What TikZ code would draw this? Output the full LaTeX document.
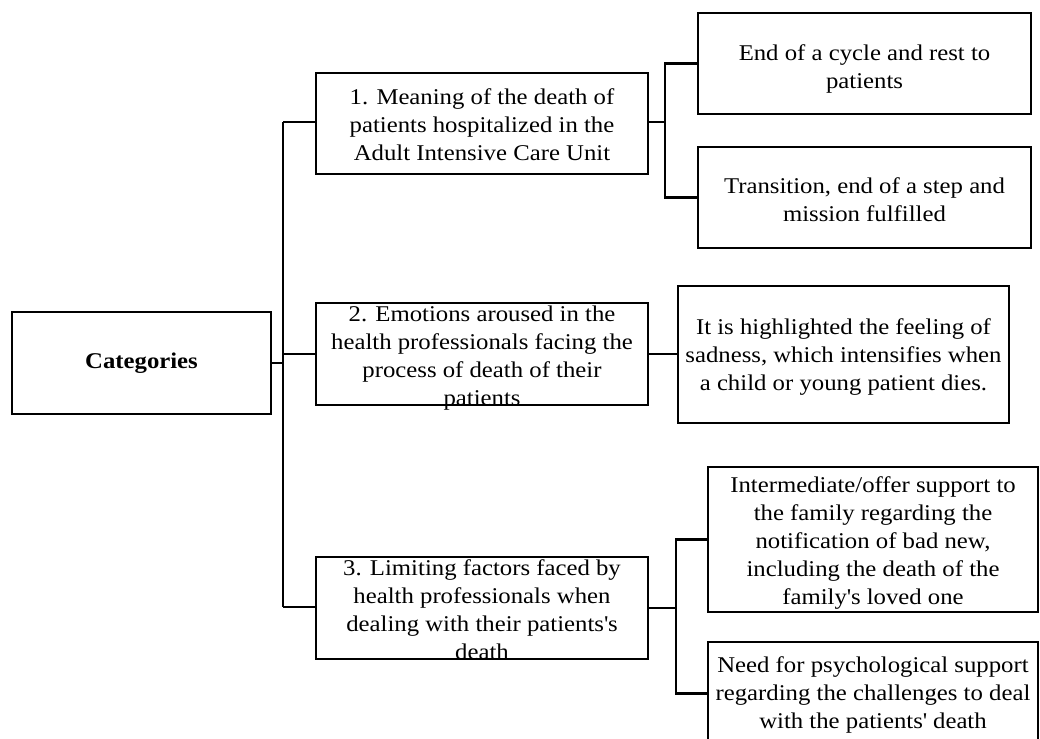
\documentclass[tikz,border=0pt]{standalone}
\usepackage{fontspec}
\setmainfont{Liberation Serif}[FakeStretch=1.1]
\begin{document}
\begin{tikzpicture}[x=1pt,y=-1pt,
  box/.style={draw, line width=2.5pt, inner sep=0pt},
  txt/.style={align=center, inner sep=0pt, font=\fontsize{22.5}{28}\selectfont},
  conn/.style={line width=2.5pt}]
\useasboundingbox (0,0) rectangle (1040,738);
\clip (0,0) rectangle (1040,738);
% boxes
\node[box, minimum width=259pt, minimum height=102pt, font=\fontsize{22.5}{28}\selectfont\bfseries] (cat) at (141.5,363) {Categories};
\node[box, minimum width=332pt, minimum height=101pt] (b1) at (482,123.5) {};
\node[box, minimum width=332pt, minimum height=102pt] (b2) at (482,354) {};
\node[box, minimum width=332pt, minimum height=102pt] (b3) at (482,608) {};
\node[box, minimum width=333pt, minimum height=101pt] (b1a) at (864.5,63.5) {};
\node[box, minimum width=333pt, minimum height=101pt] (b1b) at (864.5,197.5) {};
\node[box, minimum width=331pt, minimum height=137pt] (b2a) at (843.5,354.5) {};
\node[box, minimum width=330pt, minimum height=145pt] (b3a) at (873,539.5) {};
\node[box, minimum width=330pt, minimum height=103pt] (b3b) at (873,693.5) {};
% texts
\node[txt] (t1) at (482,125) {1. Meaning of the death of\\patients hospitalized in the\\Adult Intensive Care Unit};
\node[txt, anchor=north] (t2) at (482,306) {2. Emotions aroused in the\\health professionals facing the\\process of death of their\\patients};
\node[txt, anchor=north] (t3) at (482,559) {3. Limiting factors faced by\\health professionals when\\dealing with their patients\textquotesingle s\\death};
\node[txt] (t1a) at (864.5,69) {End of a cycle and rest to\\patients};
\node[txt] (t1b) at (864.5,200) {Transition, end of a step and\\mission fulfilled};
\node[txt] (t2a) at (843.5,357) {It is highlighted the feeling of\\sadness, which intensifies when\\a child or young patient dies.};
\node[txt] (t3a) at (873,543) {Intermediate/offer support to\\the family regarding the\\notification of bad new,\\including the death of the\\family\textquotesingle s loved one};
\node[txt, anchor=north] (t3b) at (873,656) {Need for psychological support\\regarding the challenges to deal\\with the patients\textquotesingle{} death};
% spine
\coordinate (s1) at (283,122);
\coordinate (s2) at (283,354);
\coordinate (s3) at (283,607);
\draw[conn] (s1) -- (s3);
\draw[conn] (cat.east) -- (cat.east -| s1);
\draw[conn] (s1) -- (s1 -| b1.west);
\draw[conn] (s2) -- (s2 -| b2.west);
\draw[conn] (s3) -- (s3 -| b3.west);
% right side
\coordinate (r1) at (665,122);
\draw[conn] (r1 -| b1.east) -- (r1);
\draw[conn] (b1a.west) -| (r1) |- (b1b.west);
\draw[conn] (b2.east) -- (b2.east -| b2a.west);
\coordinate (r3) at (676,608);
\draw[conn] (b3.east) -- (r3);
\draw[conn] (b3a.west) -| (r3) |- (b3b.west);
\end{tikzpicture}
\end{document}
